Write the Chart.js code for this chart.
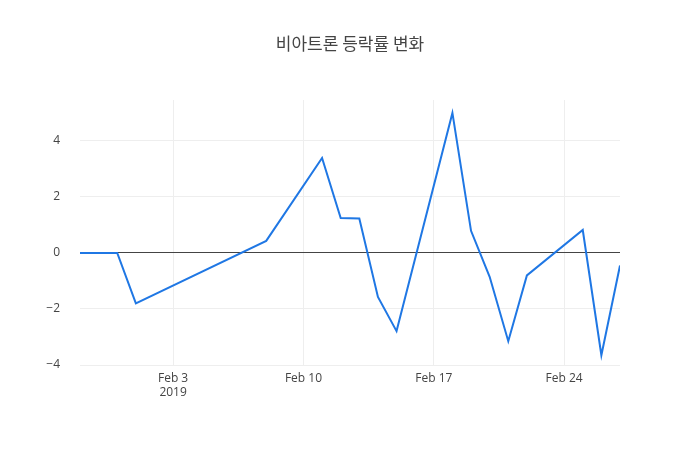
<!DOCTYPE html>
<html>
<head>
<meta charset="utf-8">
<script src="https://cdn.jsdelivr.net/npm/chart.js@4"></script>
<style>
  body { margin: 0; background: #fff; }
  #wrap { width: 700px; height: 450px; }
</style>
</head>
<body>
<div id="wrap"><canvas id="c" width="700" height="450"></canvas></div>
<script>
// Data
const dates = ['2019-01-29', '2019-01-31', '2019-02-01', '2019-02-08', '2019-02-11', '2019-02-12',
  '2019-02-13', '2019-02-14', '2019-02-15', '2019-02-18', '2019-02-19', '2019-02-20',
  '2019-02-21', '2019-02-22', '2019-02-25', '2019-02-26', '2019-02-27'];
const changes = [0, 0, -1.8, 0.43, 3.39, 1.25, 1.23, -1.57, -2.79, 5.0, 0.79, -0.85,
  -3.15, -0.8, 0.82, -3.65, -0.45];
const tickDays = [0, 7, 14, 21];
const tickLabels = [['Feb 3', '2019'], 'Feb 10', 'Feb 17', 'Feb 24'];

const base = Date.UTC(2019, 1, 3);
const toDay = s => (Date.parse(s + 'T00:00:00Z') - base) / 86400000;
const points = dates.map((d, i) => ({ x: toDay(d), y: changes[i] }));

const titlePlugin = {
  id: 'topTitle',
  afterDraw(chart) {
    const ctx = chart.ctx;
    ctx.save();
    ctx.font = '17px "Noto Sans CJK KR", "Open Sans", sans-serif';
    ctx.fillStyle = '#444';
    ctx.textAlign = 'center';
    ctx.textBaseline = 'middle';
    ctx.fillText('비아트론 등락률 변화', 350, 44);
    ctx.restore();
  }
};

new Chart(document.getElementById('c'), {
  type: 'line',
  data: {
    datasets: [{
      data: points,
      borderColor: '#1f77e4',
      borderWidth: 2,
      pointRadius: 0,
      tension: 0,
      fill: false
    }]
  },
  options: {
    responsive: false,
    animation: false,
    layout: { padding: { top: 100, right: 80, left: 0, bottom: 0 } },
    plugins: { legend: { display: false }, tooltip: { enabled: false } },
    scales: {
      x: {
        type: 'linear',
        min: -5, max: 24,
        afterFit: s => { s.height = 85; },
        afterBuildTicks: s => { s.ticks = tickDays.map(v => ({ value: v })); },
        ticks: {
          autoSkip: false, maxRotation: 0, padding: 6,
          color: '#444', font: { family: 'Open Sans', size: 12 },
          callback: (v) => tickLabels[tickDays.indexOf(v)]
        },
        grid: { color: '#eee', drawTicks: false },
        border: { display: false }
      },
      y: {
        min: -4, max: 5.46,
        afterFit: s => { s.width = 80; },
        afterBuildTicks: s => { s.ticks = [-4, -2, 0, 2, 4].map(v => ({ value: v })); },
        ticks: {
          padding: 20, color: '#444', font: { family: 'Open Sans', size: 12 },
          callback: v => v < 0 ? '−' + Math.abs(v) : String(v)
        },
        grid: {
          drawTicks: false,
          color: c => c.tick && c.tick.value === 0 ? '#444' : '#eee',
          lineWidth: 1
        },
        border: { display: false }
      }
    }
  },
  plugins: [titlePlugin]
});
</script>
</body>
</html>
